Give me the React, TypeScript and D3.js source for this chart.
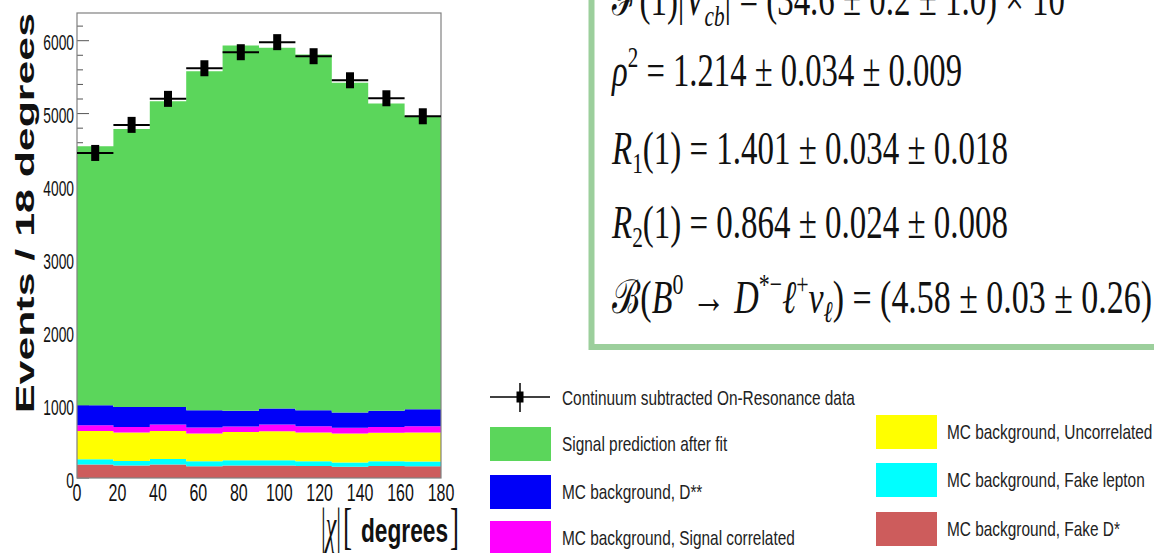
import React, { useEffect, useRef } from 'react';
import * as d3 from 'd3';

// bins of 18 degrees in |chi|
const binLow = [0, 18, 36, 54, 72, 90, 108, 126, 144, 162];
const binWidth = 18;
const xTickValues = [0, 20, 40, 60, 80, 100, 120, 140, 160, 180];
const yTickValues = [0, 1000, 2000, 3000, 4000, 5000, 6000];

// stacked components, bottom to top
const fakeDstar = [184, 170, 184, 161, 170, 170, 165, 155, 165, 161];
const fakeLepton = [73, 64, 77, 68, 73, 73, 64, 56, 64, 64];
const uncorrelated = [389, 390, 385, 381, 389, 398, 395, 399, 393, 399];
const signalCorrelated = [78, 77, 88, 82, 74, 93, 86, 80, 79, 86];
const dDoubleStar = [275, 274, 241, 238, 215, 219, 219, 208, 220, 234];
const signal = [3552, 3815, 4195, 4650, 5013, 4949, 4881, 4524, 4216, 4019];

// continuum subtracted on-resonance data
const dataValues = [4460, 4845, 5202, 5622, 5842, 5980, 5787, 5457, 5210, 4963];

const seriesKeys = ['fakeDstar', 'fakeLepton', 'uncorrelated', 'signalCorrelated', 'dDoubleStar', 'signal'];
const seriesColors: any = {
  fakeDstar: '#cd5c5c',
  fakeLepton: '#00ffff',
  uncorrelated: '#ffff00',
  signalCorrelated: '#ff00ff',
  dDoubleStar: '#0000f8',
  signal: '#5bd65b',
};

const legendLeft = [
  { key: 'signal', label: 'Signal prediction after fit' },
  { key: 'dDoubleStar', label: 'MC background, D**' },
  { key: 'signalCorrelated', label: 'MC background, Signal correlated' },
];
const legendRight = [
  { key: 'uncorrelated', label: 'MC background, Uncorrelated' },
  { key: 'fakeLepton', label: 'MC background, Fake lepton' },
  { key: 'fakeDstar', label: 'MC background, Fake D*' },
];

const W = 1154;
const H = 553;
const SY = 1.37; // the picture is stretched vertically
const SANS = '"Liberation Sans", Arial, sans-serif';
const SERIF = '"Liberation Serif", "DejaVu Serif", serif';

export default function App() {
  const ref = useRef<SVGSVGElement>(null);

  useEffect(() => {
    const svg = d3.select(ref.current);
    svg.selectAll('*').remove();

    const x = d3.scaleLinear().domain([0, 180]).range([77, 441]);
    const y = d3.scaleLinear().domain([0, 6380]).range([478, 13]);

    const table = binLow.map((b, i) => ({
      low: b,
      fakeDstar: fakeDstar[i],
      fakeLepton: fakeLepton[i],
      uncorrelated: uncorrelated[i],
      signalCorrelated: signalCorrelated[i],
      dDoubleStar: dDoubleStar[i],
      signal: signal[i],
    }));
    const layers = d3.stack<any>().keys(seriesKeys)(table);

    const g = svg.append('g');

    // y ticks (under the fills, like the original)
    const minor = d3.range(0, 6381, 200);
    g.selectAll('line.ytick')
      .data(minor)
      .enter()
      .append('line')
      .attr('x1', 77)
      .attr('x2', d => (d % 1000 === 0 ? 89 : 83))
      .attr('y1', d => y(d))
      .attr('y2', d => y(d))
      .attr('stroke', '#555')
      .attr('stroke-width', 1);

    // stacked step areas
    const area = d3
      .area<any>()
      .curve(d3.curveStepAfter)
      .x(d => x(d.x))
      .y0(d => y(d.y0))
      .y1(d => y(d.y1));
    layers.forEach(layer => {
      const pts = layer.map(d => ({ x: d.data.low, y0: d[0], y1: d[1] }));
      const last = pts[pts.length - 1];
      pts.push({ x: last.x + binWidth, y0: last.y0, y1: last.y1 });
      g.append('path').attr('d', area(pts)).attr('fill', seriesColors[layer.key]);
    });

    // frame
    g.append('rect')
      .attr('x', x(0))
      .attr('y', y(6380))
      .attr('width', x(180) - x(0))
      .attr('height', y(0) - y(6380))
      .attr('fill', 'none')
      .attr('stroke', '#808080')
      .attr('stroke-width', 1.2);

    // data points
    const pts = g.selectAll('g.pt').data(dataValues).enter().append('g');
    pts.append('line')
      .attr('x1', (d, i) => x(binLow[i]))
      .attr('x2', (d, i) => x(binLow[i] + binWidth))
      .attr('y1', d => y(d))
      .attr('y2', d => y(d))
      .attr('stroke', '#000')
      .attr('stroke-width', 2);
    pts.append('rect')
      .attr('x', (d, i) => x(binLow[i] + binWidth / 2) - 4)
      .attr('y', d => y(d) - 8)
      .attr('width', 8)
      .attr('height', 16)
      .attr('fill', '#000');

    // tick labels
    g.selectAll('text.ylab')
      .data(yTickValues)
      .enter()
      .append('text')
      .attr('transform', d => `translate(74,${y(d) + 9.5}) scale(1,1.55)`)
      .attr('text-anchor', 'end')
      .attr('font-family', SANS)
      .attr('font-size', 13.8)
      .attr('fill', '#111')
      .text(d => d);
    g.selectAll('text.xlab')
      .data(xTickValues)
      .enter()
      .append('text')
      .attr('transform', d => `translate(${x(d)},501) scale(1,1.5)`)
      .attr('text-anchor', 'middle')
      .attr('font-family', SANS)
      .attr('font-size', 16)
      .attr('fill', '#111')
      .text(d => d);

    // axis titles
    svg.append('text')
      .attr('transform', 'translate(34,213) rotate(-90)')
      .attr('text-anchor', 'middle')
      .attr('font-family', SANS)
      .attr('font-weight', 'bold')
      .attr('font-size', 26)
      .attr('textLength', 400)
      .attr('lengthAdjust', 'spacingAndGlyphs')
      .attr('fill', '#111')
      .text('Events / 18 degrees');

    const xt = svg.append('g');
    xt.append('text')
      .attr('transform', 'translate(321,543) scale(1,1.85)')
      .attr('font-family', SERIF)
      .attr('font-size', 27)
      .attr('textLength', 20)
      .attr('lengthAdjust', 'spacingAndGlyphs')
      .attr('fill', '#111')
      .html('|<tspan font-style="italic">χ</tspan>|');
    xt.append('text')
      .attr('transform', 'translate(343,543) scale(1,1.85)')
      .attr('font-family', SERIF)
      .attr('font-size', 27)
      .attr('fill', '#111')
      .text('[');
    xt.append('text')
      .attr('transform', 'translate(361,542) scale(1,1.5)')
      .attr('font-family', SANS)
      .attr('font-weight', 'bold')
      .attr('font-size', 22.4)
      .attr('textLength', 87)
      .attr('lengthAdjust', 'spacingAndGlyphs')
      .attr('fill', '#111')
      .text('degrees');
    xt.append('text')
      .attr('transform', 'translate(450,543) scale(1,1.85)')
      .attr('font-family', SERIF)
      .attr('font-size', 27)
      .attr('fill', '#111')
      .text(']');

    // result box
    svg.append('path')
      .attr('d', `M ${W + 10} 347 L 591.5 347 L 591.5 -10`)
      .attr('fill', 'none')
      .attr('stroke', '#9ccf9c')
      .attr('stroke-width', 6);

    const eqs = [
      { y: 15, len: 453, html: 'ℱ(1)|<tspan font-style="italic">V</tspan><tspan dy="7" font-size="20" font-style="italic">cb</tspan><tspan dy="-7">| = (34.6 ± 0.2 ± 1.0) × 10</tspan>' },
      { y: 86, len: 350, html: '<tspan font-style="italic">ρ</tspan><tspan dy="-13" font-size="20">2</tspan><tspan dy="13"> = 1.214 ± 0.034 ± 0.009</tspan>' },
      { y: 164, len: 396, html: '<tspan font-style="italic">R</tspan><tspan dy="6" font-size="20">1</tspan><tspan dy="-6">(1) = 1.401 ± 0.034 ± 0.018</tspan>' },
      { y: 238, len: 396, html: '<tspan font-style="italic">R</tspan><tspan dy="6" font-size="20">2</tspan><tspan dy="-6">(1) = 0.864 ± 0.024 ± 0.008</tspan>' },
      { y: 313, len: 540, html: 'ℬ(<tspan font-style="italic">B</tspan><tspan dy="-13" font-size="20">0</tspan><tspan dy="13"> → </tspan><tspan font-style="italic">D</tspan><tspan dy="-13" font-size="20">*−</tspan><tspan dy="13" font-style="italic">ℓ</tspan><tspan dy="-13" font-size="20">+</tspan><tspan dy="13" font-style="italic">ν</tspan><tspan dy="6" font-size="20" font-style="italic">ℓ</tspan><tspan dy="-6">) = (4.58 ± 0.03 ± 0.26)</tspan>' },
    ];
    eqs.forEach(e => {
      svg.append('text')
        .attr('transform', `translate(612,${e.y}) scale(1,1.5)`)
        .attr('font-family', SERIF)
        .attr('font-size', 31)
        .attr('textLength', e.len)
        .attr('lengthAdjust', 'spacingAndGlyphs')
        .attr('fill', '#111')
        .html(e.html);
    });
    // exponent of the first line, mostly outside the picture
    svg.append('text')
      .attr('transform', `translate(1068,-4) scale(1,1.5)`)
      .attr('font-family', SERIF)
      .attr('font-size', 20)
      .attr('fill', '#111')
      .text('−3');

    // legend
    const lg = svg.append('g');
    lg.append('line').attr('x1', 490).attr('x2', 550).attr('y1', 397).attr('y2', 397).attr('stroke', '#000').attr('stroke-width', 1.5);
    lg.append('line').attr('x1', 520).attr('x2', 520).attr('y1', 383).attr('y2', 412).attr('stroke', '#000').attr('stroke-width', 1.5);
    lg.append('rect').attr('x', 516.5).attr('y', 391.5).attr('width', 7).attr('height', 11).attr('fill', '#000');
    lg.append('text')
      .attr('transform', `translate(562,404.5) scale(1,${SY})`)
      .attr('font-family', SANS)
      .attr('font-size', 15.4)
      .attr('fill', '#222')
      .text('Continuum subtracted On-Resonance data');

    const leftY = [427, 475, 521];
    const rightY = [415, 463, 512];
    legendLeft.forEach((item, i) => {
      lg.append('rect').attr('x', 490).attr('y', leftY[i]).attr('width', 61).attr('height', 34).attr('fill', seriesColors[item.key]);
      lg.append('text')
        .attr('transform', `translate(562,${leftY[i] + 24}) scale(1,${SY})`)
        .attr('font-family', SANS)
        .attr('font-size', 15.4)
        .attr('fill', '#222')
        .text(item.label);
    });
    legendRight.forEach((item, i) => {
      lg.append('rect').attr('x', 876).attr('y', rightY[i]).attr('width', 61).attr('height', 34).attr('fill', seriesColors[item.key]);
      lg.append('text')
        .attr('transform', `translate(947,${rightY[i] + 24}) scale(1,${SY})`)
        .attr('font-family', SANS)
        .attr('font-size', 15.4)
        .attr('fill', '#222')
        .text(item.label);
    });
  }, []);

  return (
    <svg
      ref={ref}
      width={W}
      height={H}
      style={{ position: 'absolute', left: 0, top: 0, background: '#fff' }}
    />
  );
}
